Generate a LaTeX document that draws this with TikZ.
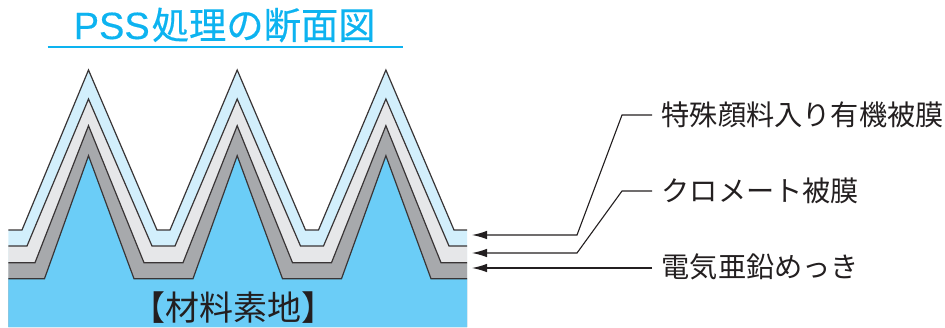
\documentclass[tikz,border=0pt]{standalone}
\usepackage{fontspec}
\setmainfont{Liberation Sans}
\newfontfamily\jpfont{Noto Sans CJK JP}
\newfontfamily\titlelatin[FakeBold=0.4]{Liberation Sans}
\newfontfamily\titlejp[FakeBold=0.4]{Noto Sans CJK JP}
\usetikzlibrary{arrows.meta}
\definecolor{baseblue}{HTML}{6BCDF7}
\definecolor{layerA}{HTML}{D2EFFC}
\definecolor{layerB}{HTML}{E6E7E9}
\definecolor{layerC}{HTML}{A7A9AC}
\definecolor{titleblue}{HTML}{0DB3F0}
\definecolor{inkdark}{HTML}{231F20}
\tikzset{
  x=1pt,y=-1pt,
  layer/.style={draw=inkdark!90,line width=1.2pt,line join=miter},
  lbl/.style={font=\jpfont\fontsize{28.2}{30}\selectfont,text=inkdark,anchor=west,inner sep=0pt},
  leader/.style={draw=inkdark,line width=1.1pt,-{Latex[length=15pt,width=8.5pt]}},
}
\newcommand{\teeth}[6]{%
  \path[fill=#1] (8.3,#2) -- (88.5-#3,#2) -- (88.5,#4) -- (163.5-#5,#2) -- (163.5+#5,#2) -- (237.2,#4) -- (312-#5,#2) -- (312+#5,#2) -- (385.9,#4) -- (#6,#2) -- (467,#2) -- (467,327) -- (8.3,327) -- cycle;
  \draw[layer] (8.3,#2) -- (88.5-#3,#2) -- (88.5,#4) -- (163.5-#5,#2) -- (163.5+#5,#2) -- (237.2,#4) -- (312-#5,#2) -- (312+#5,#2) -- (385.9,#4) -- (#6,#2) -- (467,#2);
}
\begin{document}
\begin{tikzpicture}
\useasboundingbox (0,0) rectangle (945,327);
\teeth{layerA}{230}{66.5}{70}{6.5}{454}
\teeth{layerB}{246}{61.5}{99}{11.5}{449}
\teeth{layerC}{262.7}{53.5}{125.7}{19.5}{441}
\teeth{baseblue}{278.7}{44}{155.7}{29.5}{431}
\node[font=\jpfont\fontsize{34}{36}\selectfont,text=inkdark,inner sep=0pt] (material) at (233,307.5) {【材料素地】};
\node[text=titleblue,inner sep=0pt,anchor=base west] (title) at (73.5,39) {\fontsize{38}{40}\selectfont\titlelatin PSS\kern2pt{\titlejp\fontsize{37.3}{40}\selectfont 処理の断面図}};
\coordinate (ruleL) at (47.5,47);
\coordinate (ruleR) at (403,47);
\draw[draw=titleblue,line width=1.3pt] (ruleL) -- (ruleR);
\node[lbl] (l1) at (661.5,115) {特殊顔料入り有機被膜};
\node[lbl] (l2) at (661.5,191) {クロメート被膜};
\node[lbl] (l3) at (661.5,267) {電気亜鉛めっき};
\coordinate (a1) at (472,235);
\coordinate (a2) at (472,253);
\coordinate (a3) at (472,268);
\draw[leader] (l1.west) ++(-9.5,0) -- (622,115) -- (577,235) -- (a1);
\draw[leader] (l2.west) ++(-9.5,0) -- (622,191) -- (577,253) -- (a2);
\draw[leader] (652,268) -- (a3);
\end{tikzpicture}
\end{document}
